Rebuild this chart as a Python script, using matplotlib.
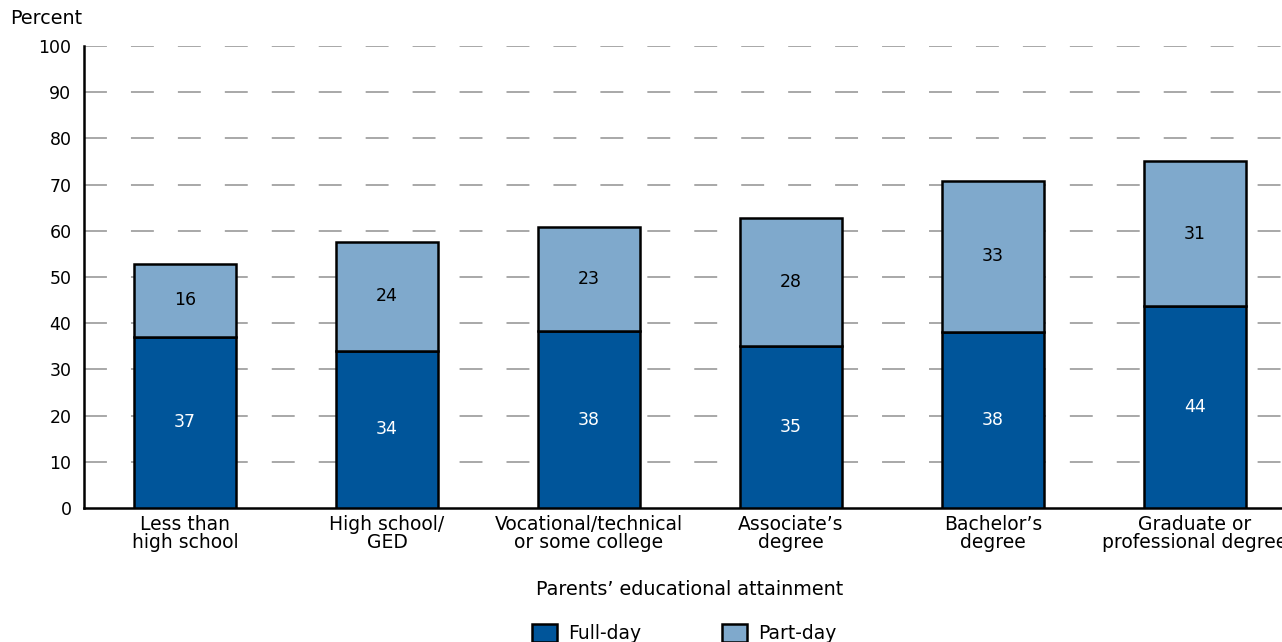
import matplotlib.pyplot as plt

plt.rcParams["font.family"] = "DejaVu Sans"
plt.rcParams["lines.scale_dashes"] = False

categories = [
    "Less than\nhigh school",
    "High school/\nGED",
    "Vocational/technical\nor some college",
    "Associate’s\ndegree",
    "Bachelor’s\ndegree",
    "Graduate or\nprofessional degree",
]
full_day = [37.1, 34.0, 38.3, 35.1, 38.1, 43.7]
part_day = [15.8, 23.6, 22.6, 27.7, 32.7, 31.4]
y_ticks = [0, 10, 20, 30, 40, 50, 60, 70, 80, 90, 100]

DARK = "#00559a"
LIGHT = "#7fa9cc"

fig = plt.figure(figsize=(12.82, 6.42), dpi=100)
ax = fig.add_axes([84 / 1282, 134 / 642, (1296 - 84) / 1282, 462 / 642])

x = list(range(len(categories)))
ax.bar(x, full_day, width=0.505, color=DARK, edgecolor="black", linewidth=1.8,
       label="Full-day", zorder=3)
ax.bar(x, part_day, width=0.505, bottom=full_day, color=LIGHT, edgecolor="black",
       linewidth=1.8, label="Part-day", zorder=3)

for i in x:
    ax.text(i, full_day[i] / 2, f"{round(full_day[i])}", ha="center", va="center",
            color="white", fontsize=12.5, zorder=4)
    ax.text(i, full_day[i] + part_day[i] / 2, f"{round(part_day[i])}", ha="center",
            va="center", color="black", fontsize=12.5, zorder=4)

ax.set_xlim(-0.5, 5.5)
ax.set_ylim(0, 100)
ax.set_yticks(y_ticks)
ax.set_xticks(x)
ax.set_xticklabels(categories, fontsize=13.5, linespacing=0.95)
ax.tick_params(axis="y", length=0, pad=9, labelsize=12.5)
ax.tick_params(axis="x", length=0, pad=5)

# dashed grid, drawn per tick so the dash pattern starts at the y axis
for t in y_ticks[1:]:
    ax.axhline(t, xmin=0, xmax=1, color="#a8a8a8", linewidth=1.4,
               linestyle=(0, (16.5, 17.3)), zorder=0)

for s in ["top", "right"]:
    ax.spines[s].set_visible(False)
ax.spines["left"].set_linewidth(1.8)
ax.spines["bottom"].set_linewidth(1.8)

ax.set_xlabel("Parents’ educational attainment", fontsize=13.8, labelpad=20)
fig.text(10 / 1282, 1 - 19 / 642, "Percent", fontsize=13.8, ha="left", va="center")

fig.legend(loc="upper center", bbox_to_anchor=(0.534, 1 - 607 / 642), ncol=2,
           frameon=False, fontsize=13.5, handlelength=1.33, handleheight=1.1,
           handletextpad=0.6, columnspacing=4.3)

fig.savefig("out.png", dpi=100)
